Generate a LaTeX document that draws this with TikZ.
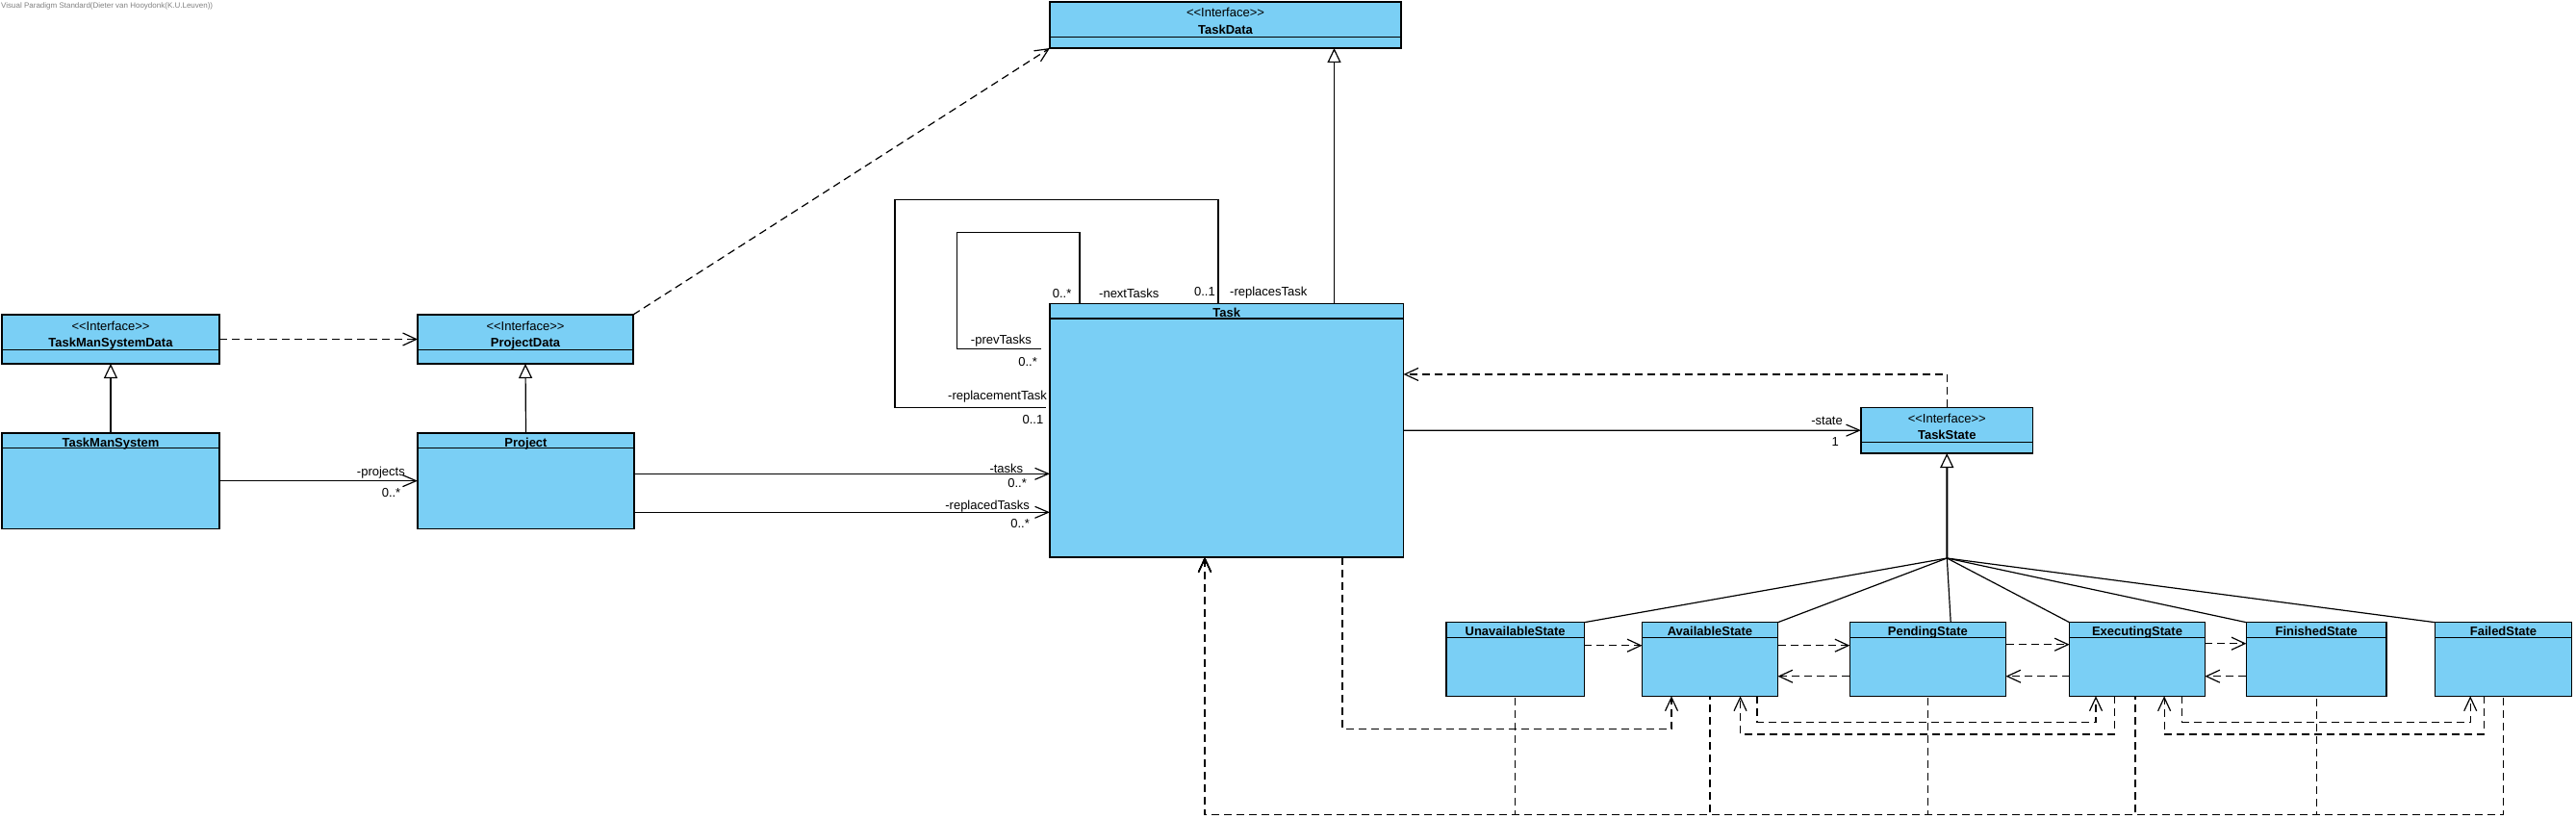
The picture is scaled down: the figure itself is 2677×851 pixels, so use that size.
\documentclass[tikz,border=0pt]{standalone}
\usepackage{fontspec}
\setmainfont{Liberation Sans}
\usepackage{tikz}
\usetikzlibrary{arrows.meta,positioning,calc}
\definecolor{vpblue}{RGB}{122,207,245}
\newcommand{\classfont}{\fontsize{13pt}{15pt}\selectfont}
\tikzset{
  classbox/.style  = {rectangle, draw, fill=vpblue, line width=1.4pt, inner sep=0pt, outer sep=0pt, anchor=north west},
  boxline/.style   = {line width=1.4pt},
  classname/.style = {font=\classfont\bfseries, inner sep=0pt, anchor=base},
  stereo/.style    = {font=\classfont, inner sep=0pt, anchor=base},
  role/.style      = {font=\classfont, inner sep=0pt},
  assoc/.style     = {line width=1.2pt, -{Straight Barb[length=14pt, width=12pt]}},
  loopline/.style  = {line width=1.2pt},
  dep/.style       = {line width=1.2pt, dash pattern=on 8pt off 5pt, -{Straight Barb[length=14pt, width=13pt]}},
  depback/.style   = {line width=1.2pt, dash pattern=on 8pt off 5pt, {Straight Barb[length=14pt, width=13pt]}-},
  gen/.style       = {line width=1.2pt, -{Triangle[open, length=15pt, width=14pt, line width=1.2pt]}},
  genline/.style   = {line width=1.2pt},
  watermark/.style = {font=\fontsize{8pt}{9pt}\selectfont, text=black!50, inner sep=0pt}
}
% class box: name, x, y, width, height, title
\newcommand{\umlclass}[6]{%
  \node[classbox, minimum width=#4pt, minimum height=#5pt] (#1) at (#2,#3) {};
  \draw[boxline] ([yshift=-15.6pt]#1.north west) -- ([yshift=-15.6pt]#1.north east);
  \node[classname] (#1-name) at ([yshift=-14pt]#1.north) {#6};
}
% interface box: name, x, y, width, height, title
\newcommand{\umliface}[6]{%
  \node[classbox, minimum width=#4pt, minimum height=#5pt] (#1) at (#2,#3) {};
  \draw[boxline] ([yshift=-36.3pt]#1.north west) -- ([yshift=-36.3pt]#1.north east);
  \node[stereo] (#1-st) at ([yshift=-16pt]#1.north) {{<}{<}Interface{>}{>}};
  \node[classname] (#1-name) at ([yshift=-33.5pt]#1.north) {#6};
}

\begin{document}
\begin{tikzpicture}[x=1pt, y=-1pt]
    \useasboundingbox (0,0) rectangle (2677,851);
    \node[watermark, anchor=base west] (vp) at (1,9) {Visual Paradigm Standard(Dieter van Hooydonk(K.U.Leuven))};
    % Interfaces
    \umliface{taskdata}{1091}{2}{365}{48}{TaskData}
    \umliface{tmsdata}{2}{327}{226}{51}{TaskManSystemData}
    \umliface{projdata}{434}{327}{224}{51}{ProjectData}
    \umliface{taskstate}{1934}{423.3}{178.5}{47.7}{TaskState}
    % Classes
    \umlclass{tms}{2}{450}{226}{99.3}{TaskManSystem}
    \umlclass{project}{434}{450}{225}{99.3}{Project}
    \umlclass{task}{1091}{315.5}{367.5}{263.5}{Task}
    % States
    \umlclass{unavail}{1503}{646.7}{143.3}{76.6}{UnavailableState}
    \umlclass{avail}{1706.5}{646.7}{141}{76.6}{AvailableState}
    \umlclass{pending}{1922.3}{646.7}{162.2}{76.6}{PendingState}
    \umlclass{executing}{2150.6}{646.7}{140.8}{76.6}{ExecutingState}
    \umlclass{finished}{2334.4}{646.7}{145.6}{76.6}{FinishedState}
    \umlclass{failed}{2530.6}{646.7}{141.8}{76.6}{FailedState}

    % Dependencies between interfaces
    \draw[dep] (tmsdata.east) -- (projdata.west);
    \draw[dep] (projdata.north east) -- (taskdata.south west);
    % Generalisations
    \draw[gen] (tms.north) -- (tmsdata.south);
    \draw[gen] (project.north) -- (projdata.south);
    \draw[gen] ([xshift=295.5pt]task.north west) -- ([xshift=295.5pt]taskdata.south west);

    % Associations
    \draw[assoc] (tms.east) -- (project.west);
    \node[role, anchor=base east] (l-projects) at (421,494) {-projects};
    \node[role, anchor=base east] (l-projm) at (416.5,516) {0..*};
    \coordinate (pj-a) at ([yshift=7.35pt]project.east);
    \coordinate (pj-b) at ([yshift=-32.65pt]project.east);
    \draw[assoc] (pj-a) -- (pj-a -| task.west);
    \draw[assoc] (pj-b) -- (pj-b -| task.west);
    \node[role, anchor=base east] (l-tasks) at (1063.4,491.5) {-tasks};
    \node[role, anchor=base east] (l-tasksm) at (1067,506.7) {0..*};
    \node[role, anchor=base east] (l-repl) at (1070,529.3) {-replacedTasks};
    \node[role, anchor=base east] (l-replm) at (1070,548.3) {0..*};
    \draw[assoc] (task.east) -- (taskstate.west);
    \node[role, anchor=base east] (l-state) at (1915,441.5) {-state};
    \node[role, anchor=base east] (l-statem) at (1911,463.3) {1};

    % Self associations of Task
    \draw[loopline] ([xshift=175pt]task.north west) -- ++(0,-108.2) -- ++(-336,0) |- ([xshift=-4pt,yshift=23.95pt]task.west);
    \draw[loopline] ([xshift=31pt]task.north west) -- ++(0,-74.2) -- ++(-127.5,0) |- ([xshift=-9pt,yshift=85pt]task.west);
    \node[role, anchor=base east] (l-nextm) at (1113.5,309.3) {0..*};
    \node[role, anchor=base west] (l-next) at (1142,309.3) {-nextTasks};
    \node[role, anchor=base east] (l-rpsm) at (1263,307.3) {0..1};
    \node[role, anchor=base west] (l-rps) at (1278,307.3) {-replacesTask};
    \node[role, anchor=base east] (l-prev) at (1072,357.7) {-prevTasks};
    \node[role, anchor=base east] (l-prevm) at (1078,380) {0..*};
    \node[role, anchor=base east] (l-rpmt) at (1088,415) {-replacementTask};
    \node[role, anchor=base east] (l-rpmtm) at (1084.5,440.7) {0..1};

    % TaskState uses Task
    \draw[dep] (taskstate.north) |- ([yshift=58.3pt]task.east);

    % State hierarchy
    \coordinate (genjoin) at (2023.3,580);
    \draw[gen, line width=2pt] (genjoin) -- (taskstate.south);
    \draw[genline] (unavail.north east) -- (genjoin);
    \draw[genline] (avail.north east) -- (genjoin);
    \draw[genline] ([xshift=23.8pt]pending.north) -- (genjoin);
    \draw[genline] (executing.north west) -- (genjoin);
    \draw[genline] (finished.north west) -- (genjoin);
    \draw[genline] (failed.north west) -- (genjoin);

    % Transitions between states
    \draw[dep] ([yshift=-24pt]unavail.north east) -- ([yshift=-24pt]avail.north west);
    \draw[dep] ([yshift=-24pt]avail.north east) -- ([yshift=-24pt]pending.north west);
    \draw[dep] ([yshift=-56pt]pending.north west) -- ([yshift=-56pt]avail.north east);
    \draw[dep] ([yshift=-23pt]pending.north east) -- ([yshift=-23pt]executing.north west);
    \draw[dep] ([yshift=-56pt]executing.north west) -- ([yshift=-56pt]pending.north east);
    \draw[dep] ([yshift=-22pt]executing.north east) -- ([yshift=-22pt]finished.north west);
    \draw[dep] ([yshift=-56pt]finished.north west) -- ([yshift=-56pt]executing.north east);
    \draw[dep] ([xshift=304pt]task.south west) -- ++(0,178.3) -| ([xshift=30.5pt]avail.south west);
    \draw[dep] ([xshift=119.5pt]avail.south west) -- ++(0,27.2) -| ([xshift=27.4pt]executing.south west);
    \draw[dep] ([xshift=46.6pt]executing.south west) -- ++(0,39.7) -| ([xshift=102pt]avail.south west);
    \draw[dep] ([xshift=117.2pt]executing.south west) -- ++(0,27.2) -| ([xshift=36.6pt]failed.south west);
    \draw[dep] ([xshift=51pt]failed.south west) -- ++(0,39.7) -| ([xshift=98.5pt]executing.south west);

    % States use Task (drawn from the Task end so the shared run keeps one dash phase)
    \draw[depback] ([xshift=161pt]task.south west) -- ++(0,267.7) -| (unavail.south);
    \draw[depback] ([xshift=161pt]task.south west) -- ++(0,267.7) -| (avail.south);
    \draw[depback] ([xshift=161pt]task.south west) -- ++(0,267.7) -| (pending.south);
    \draw[depback] ([xshift=161pt]task.south west) -- ++(0,267.7) -| ([xshift=-2pt]executing.south);
    \draw[depback] ([xshift=161pt]task.south west) -- ++(0,267.7) -| (finished.south);
    \draw[depback] ([xshift=161pt]task.south west) -- ++(0,267.7) -| (failed.south);
  \end{tikzpicture}
\end{document}
